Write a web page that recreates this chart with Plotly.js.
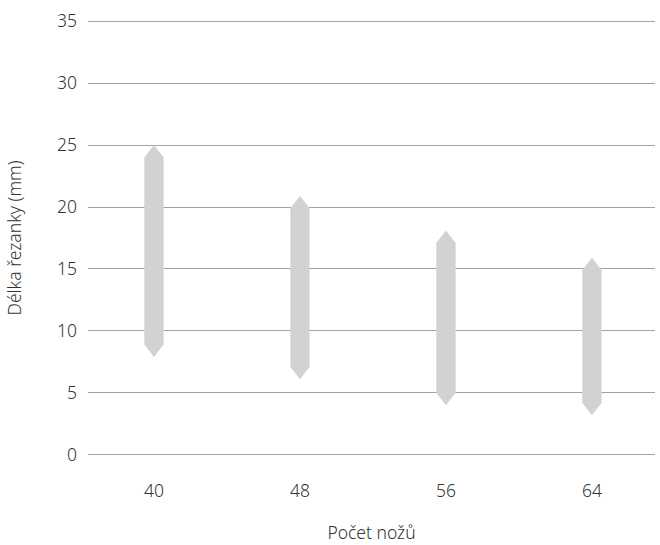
<!DOCTYPE html>
<html>
<head>
<meta charset="utf-8">
<script src="https://cdn.plot.ly/plotly-3.0.1.min.js"></script>
<style>html,body{margin:0;padding:0;background:#fff}#chart{width:660px;height:545px}</style>
</head>
<body>
<div id="chart"></div>
<script>
var categories = ["40", "48", "56", "64"];
var lowValues = [7.9, 6.1, 4.0, 3.2];
var highValues = [25.0, 20.9, 18.1, 15.9];

var halfWidth = 0.066;
var tipHeight = 1.0;
var barColor = "#d1d2d4";

var traces = [];
for (var i = 0; i < categories.length; i++) {
  var lo = lowValues[i], hi = highValues[i];
  traces.push({
    type: "scatter",
    mode: "lines",
    x: [i, i + halfWidth, i + halfWidth, i, i - halfWidth, i - halfWidth, i],
    y: [hi, hi - tipHeight, lo + tipHeight, lo, lo + tipHeight, hi - tipHeight, hi],
    fill: "toself",
    fillcolor: barColor,
    line: {width: 0, color: barColor},
    hoverinfo: "skip",
    showlegend: false
  });
}

var font = {family: "Noto Sans, sans-serif", size: 17.5, color: "#333333", weight: 300};

var layout = {
  width: 660,
  height: 545,
  margin: {l: 88, r: 5, t: 18, b: 87},
  paper_bgcolor: "#ffffff",
  plot_bgcolor: "#ffffff",
  font: font,
  showlegend: false,
  xaxis: {
    range: [-0.452, 3.432],
    tickmode: "array",
    tickvals: [0, 1, 2, 3],
    ticktext: categories,
    showgrid: false,
    zeroline: false,
    showline: false,
    ticks: "",
    ticklabelstandoff: 20,
    tickfont: font,
    title: {text: "Počet nožů", font: font, standoff: 26}
  },
  yaxis: {
    range: [-0.26, 35.26],
    tickmode: "array",
    tickvals: [0, 5, 10, 15, 20, 25, 30, 35],
    showgrid: true,
    gridcolor: "#a3a3a3",
    gridwidth: 1,
    zeroline: false,
    showline: false,
    ticks: "",
    ticklabelstandoff: 10,
    tickfont: font,
    title: {text: "Délka řezanky (mm)", font: font, standoff: 30}
  }
};

Plotly.newPlot("chart", traces, layout, {displayModeBar: false, staticPlot: true});
</script>
</body>
</html>
